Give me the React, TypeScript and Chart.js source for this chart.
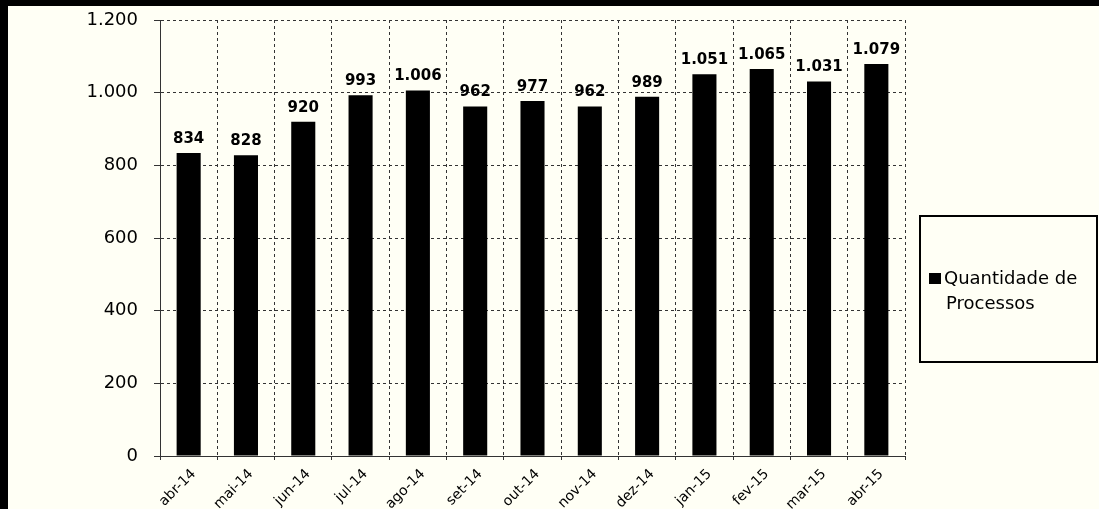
import React, { useEffect, useRef } from "react";
import { Chart, registerables } from "chart.js";

Chart.register(...registerables);

const categories = [
  "abr-14", "mai-14", "jun-14", "jul-14", "ago-14", "set-14", "out-14",
  "nov-14", "dez-14", "jan-15", "fev-15", "mar-15", "abr-15",
];
const values = [834, 828, 920, 993, 1006, 962, 977, 962, 989, 1051, 1065, 1031, 1079];
const seriesName = "Quantidade de Processos";
const legendLines = ["Quantidade de", "Processos"];
const yMin = 0;
const yMax = 1200;
const yStep = 200;

const fmt = (n: number) => String(Math.round(n)).replace(/\B(?=(\d{3})+(?!\d))/g, ".");

const BG = "#fffff5";
const FONT = "'DejaVu Sans', Arial, sans-serif";

const framePlugin = {
  id: "frame",
  beforeDraw(chart: any) {
    const { ctx, width, height } = chart;
    ctx.save();
    ctx.fillStyle = BG;
    ctx.fillRect(0, 0, width, height);
    ctx.fillStyle = "#000";
    ctx.fillRect(0, 0, width, 6);
    ctx.fillRect(0, 0, 8, height);
    ctx.restore();
  },
};

const labelsPlugin = {
  id: "valueLabels",
  afterDatasetsDraw(chart: any) {
    const { ctx } = chart;
    const meta = chart.getDatasetMeta(0);
    const data = chart.data.datasets[0].data as number[];
    ctx.save();
    ctx.fillStyle = "#000";
    ctx.font = `bold 15px ${FONT}`;
    ctx.textAlign = "center";
    ctx.textBaseline = "middle";
    meta.data.forEach((el: any, i: number) => {
      ctx.fillText(fmt(data[i]), el.x, el.y - 14);
    });
    ctx.restore();
  },
};

const legendPlugin = {
  id: "boxLegend",
  afterDraw(chart: any) {
    const { ctx } = chart;
    ctx.save();
    ctx.strokeStyle = "#000";
    ctx.lineWidth = 2;
    ctx.strokeRect(920, 216, 177, 146);
    ctx.fillStyle = "#000";
    ctx.fillRect(929, 273, 12, 11);
    ctx.font = `18px ${FONT}`;
    ctx.textAlign = "left";
    ctx.textBaseline = "middle";
    ctx.fillText(legendLines[0], 944, 279);
    ctx.fillText(legendLines[1], 946, 304);
    ctx.restore();
  },
};

export default function App() {
  const ref = useRef<HTMLCanvasElement | null>(null);

  useEffect(() => {
    if (!ref.current) return;
    const gridColor = "#333";
    const chart = new Chart(ref.current, {
      type: "bar",
      data: {
        labels: categories,
        datasets: [
          {
            label: seriesName,
            data: values,
            backgroundColor: "#000",
            borderWidth: 0,
            barPercentage: 0.42,
            categoryPercentage: 1,
          },
        ],
      },
      options: {
        animation: false,
        responsive: true,
        maintainAspectRatio: false,
        devicePixelRatio: 1,
        layout: { padding: { top: 20, right: 194, left: 0, bottom: 0 } },
        plugins: {
          legend: { display: false },
          tooltip: { enabled: false },
          title: { display: false },
        },
        scales: {
          x: {
            offset: true,
            afterFit: (scale: any) => {
              scale.height = 53;
              scale.paddingLeft = 0;
              scale.paddingRight = 0;
            },
            grid: {
              display: true,
              offset: true,
              color: gridColor,
              lineWidth: 1,
              tickLength: 4,
            },
            border: { display: true, color: gridColor, dash: [3, 3] },
            ticks: {
              color: "#000",
              font: { family: FONT, size: 14 },
              minRotation: 45,
              maxRotation: 45,
              padding: 6,
              labelOffset: 5,
              autoSkip: false,
            },
          },
          y: {
            min: yMin,
            max: yMax,
            afterFit: (scale: any) => {
              scale.width = 160;
              scale.paddingTop = 0;
              scale.paddingBottom = 0;
            },
            grid: {
              color: gridColor,
              lineWidth: 1,
              tickLength: 6,
            },
            border: { display: true, color: gridColor, dash: [3, 3] },
            ticks: {
              stepSize: yStep,
              color: "#000",
              font: { family: FONT, size: 18 },
              padding: 16,
              callback: (v: any) => fmt(Number(v)),
            },
          },
        },
      },
      plugins: [framePlugin, labelsPlugin, legendPlugin],
    });
    (chart.options.scales as any).x.grid.borderDash = [3, 3];
    (chart.options.scales as any).y.grid.borderDash = [3, 3];
    chart.update();
    return () => chart.destroy();
  }, []);

  return (
    <div style={{ position: "absolute", left: 0, top: 0, width: 1099, height: 509 }}>
      <canvas ref={ref} />
    </div>
  );
}
